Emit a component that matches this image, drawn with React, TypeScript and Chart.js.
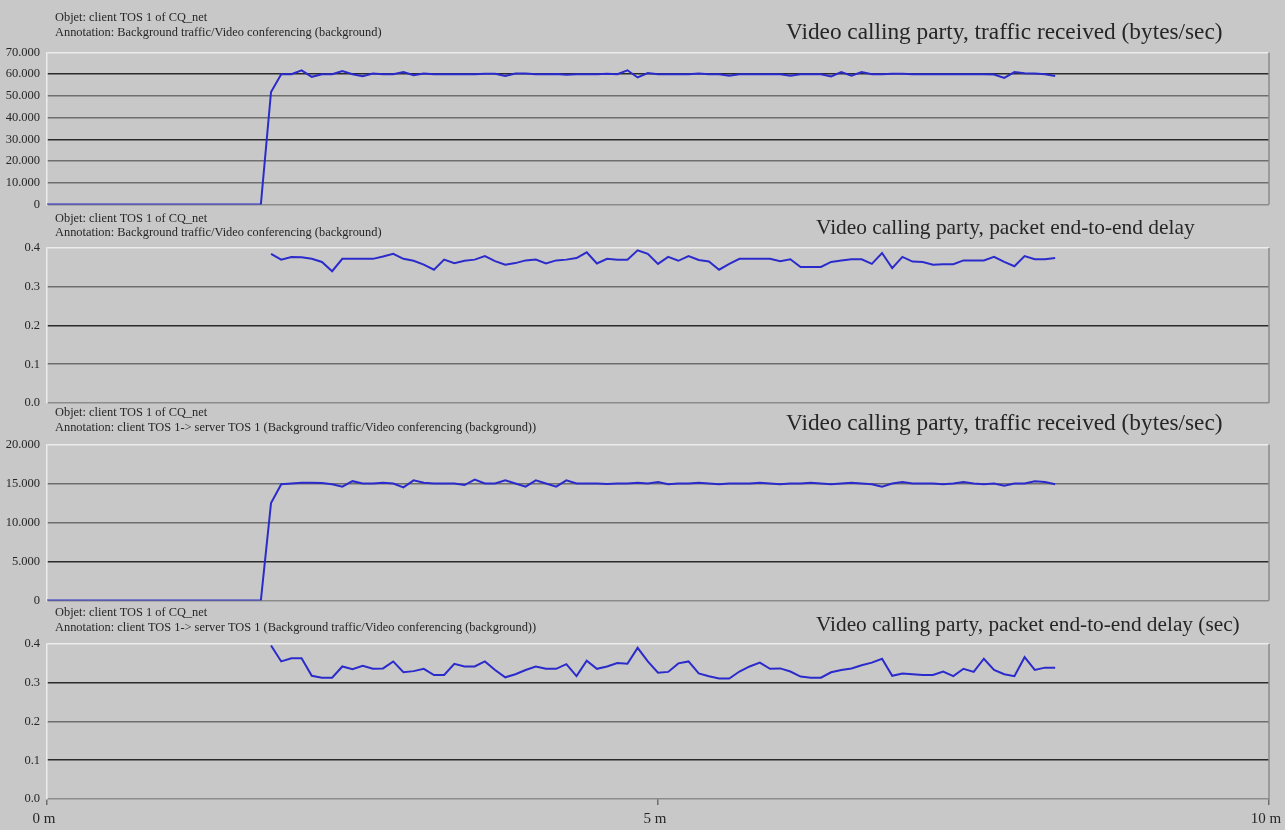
import { useEffect, useRef } from "react";
import { Chart, registerables } from "chart.js";

Chart.register(...registerables);

// ---------- DATA ----------
const SAMPLE_TIMES_S = [
  105, 110, 115, 120, 125, 130, 135, 140, 145, 150,
  155, 160, 165, 170, 175, 180, 185, 190, 195, 200,
  205, 210, 215, 220, 225, 230, 235, 240, 245, 250,
  255, 260, 265, 270, 275, 280, 285, 290, 295, 300,
  305, 310, 315, 320, 325, 330, 335, 340, 345, 350,
  355, 360, 365, 370, 375, 380, 385, 390, 395, 400,
  405, 410, 415, 420, 425, 430, 435, 440, 445, 450,
  455, 460, 465, 470, 475, 480, 485, 490, 495,
];
const IDLE_START_S = 0;

const TRAFFIC_RECEIVED_A = [
  0, 51800, 60000, 60000, 61800, 58800, 60000, 60000, 61500, 60000,
  59100, 60300, 60000, 60000, 61000, 59500, 60300, 60000, 60000, 60000,
  60000, 60000, 60200, 60200, 59200, 60300, 60300, 60000, 60000, 60100,
  59800, 60000, 60000, 60000, 60200, 60000, 61800, 58500, 60500, 60000,
  60000, 60000, 60000, 60300, 60000, 60000, 59300, 60000, 60000, 60000,
  60000, 60000, 59300, 60000, 60000, 60000, 59000, 61000, 59300, 61000,
  60000, 60000, 60200, 60200, 60000, 60000, 60000, 60000, 60000, 60000,
  60000, 60000, 59900, 58300, 61000, 60500, 60300, 60000, 59200,
];

const DELAY_A = [
  null, 0.385, 0.370, 0.377, 0.376, 0.372, 0.364, 0.340, 0.372, 0.372,
  0.372, 0.372, 0.378, 0.385, 0.372, 0.367, 0.357, 0.344, 0.370, 0.361,
  0.367, 0.370, 0.379, 0.366, 0.357, 0.361, 0.368, 0.370, 0.360, 0.368,
  0.370, 0.374, 0.389, 0.360, 0.372, 0.370, 0.370, 0.394, 0.385, 0.359,
  0.377, 0.367, 0.379, 0.369, 0.365, 0.344, 0.359, 0.372, 0.372, 0.372,
  0.372, 0.366, 0.371, 0.351, 0.351, 0.351, 0.364, 0.368, 0.371, 0.371,
  0.359, 0.387, 0.348, 0.377, 0.365, 0.364, 0.357, 0.358, 0.358, 0.368,
  0.368, 0.368, 0.377, 0.364, 0.353, 0.379, 0.371, 0.371, 0.374,
];

const TRAFFIC_RECEIVED_B = [
  0, 12500, 14900, 15000, 15100, 15100, 15050, 14900, 14600, 15300,
  15000, 15000, 15100, 15000, 14500, 15400, 15100, 15000, 15000, 15000,
  14800, 15500, 15000, 15000, 15400, 15000, 14600, 15400, 15000, 14600,
  15400, 15000, 15000, 15000, 14950, 15000, 15000, 15100, 15000, 15200,
  14900, 15000, 15000, 15100, 15000, 14900, 15000, 15000, 15000, 15100,
  15000, 14900, 15000, 15000, 15100, 15000, 14900, 15000, 15100, 15000,
  14900, 14600, 15000, 15200, 15000, 15000, 15000, 14900, 15000, 15200,
  15000, 14900, 15000, 14700, 15000, 15000, 15300, 15200, 14900,
];

const DELAY_B = [
  null, 0.396, 0.355, 0.363, 0.363, 0.318, 0.313, 0.313, 0.342, 0.335,
  0.344, 0.336, 0.337, 0.355, 0.327, 0.330, 0.336, 0.320, 0.320, 0.349,
  0.342, 0.342, 0.355, 0.333, 0.314, 0.322, 0.333, 0.342, 0.336, 0.336,
  0.348, 0.317, 0.357, 0.336, 0.342, 0.351, 0.349, 0.390, 0.355, 0.326,
  0.328, 0.350, 0.355, 0.324, 0.317, 0.311, 0.311, 0.329, 0.342, 0.352,
  0.336, 0.337, 0.329, 0.316, 0.313, 0.313, 0.327, 0.333, 0.337, 0.345,
  0.352, 0.362, 0.318, 0.324, 0.322, 0.320, 0.320, 0.329, 0.317, 0.336,
  0.328, 0.362, 0.333, 0.322, 0.317, 0.366, 0.333, 0.339, 0.339,
];

const X_TICK_LABELS = ["0 m", "5 m", "10 m"];
const Y_TICKS_TRAFFIC_A = ["0", "10.000", "20.000", "30.000", "40.000", "50.000", "60.000", "70.000"];
const Y_TICKS_DELAY = ["0.0", "0.1", "0.2", "0.3", "0.4"];
const Y_TICKS_TRAFFIC_B = ["0", "5.000", "10.000", "15.000", "20.000"];

const OBJET = "Objet: client TOS 1 of CQ_net";
const ANNOT_A = "Annotation: Background traffic/Video conferencing (background)";
const ANNOT_B = "Annotation: client TOS 1-> server TOS 1 (Background traffic/Video conferencing (background))";
const TITLE_TRAFFIC = "Video calling party, traffic received (bytes/sec)";
const TITLE_DELAY = "Video calling party, packet end-to-end delay";
const TITLE_DELAY_SEC = "Video calling party, packet end-to-end delay (sec)";

// ---------- STYLE / LAYOUT ----------
const W = 1285;
const H = 830;
const BG = "#c8c8c8";
const LINE = "#2b2bcc";
const SERIF = "'Liberation Serif', 'Times New Roman', serif";
const AXIS_W = 47;
const RIGHT_PAD = 16;
const X_AXIS_H = 30;
const LIGHT = "#ececec";
const DARK = "#2a2a2a";
const MID = "#6e6e6e";
const SOFT = "#8c8c8c";
const TEXT = "#262626";

type PanelCfg = {
  top: number;
  bottom: number;
  max: number;
  step: number;
  tickLabels: string[];
  gridColors: string[];
  values: (number | null)[];
  idle: boolean;
  annotation: string;
  title: string;
  titleSize: number;
  headY1: number;
  headY2: number;
  titleX: number;
  titleY: number;
  showX: boolean;
};

const PANELS: PanelCfg[] = [
  {
    top: 52.5, bottom: 204.5, max: 70000, step: 10000,
    tickLabels: Y_TICKS_TRAFFIC_A,
    gridColors: [SOFT, MID, MID, DARK, MID, MID, DARK, LIGHT],
    values: TRAFFIC_RECEIVED_A, idle: true,
    annotation: ANNOT_A, title: TITLE_TRAFFIC, titleSize: 23.3,
    headY1: 18, headY2: 33, titleX: 786, titleY: 33, showX: false,
  },
  {
    top: 248, bottom: 403, max: 0.4, step: 0.1,
    tickLabels: Y_TICKS_DELAY,
    gridColors: [SOFT, MID, DARK, MID, LIGHT],
    values: DELAY_A, idle: false,
    annotation: ANNOT_A, title: TITLE_DELAY, titleSize: 21.4,
    headY1: 219, headY2: 233, titleX: 816, titleY: 228, showX: false,
  },
  {
    top: 444.5, bottom: 600.5, max: 20000, step: 5000,
    tickLabels: Y_TICKS_TRAFFIC_B,
    gridColors: [SOFT, DARK, MID, MID, LIGHT],
    values: TRAFFIC_RECEIVED_B, idle: true,
    annotation: ANNOT_B, title: TITLE_TRAFFIC, titleSize: 23.3,
    headY1: 413, headY2: 428, titleX: 786, titleY: 424, showX: false,
  },
  {
    top: 644, bottom: 799, max: 0.4, step: 0.1,
    tickLabels: Y_TICKS_DELAY,
    gridColors: [SOFT, DARK, MID, DARK, LIGHT],
    values: DELAY_B, idle: false,
    annotation: ANNOT_B, title: TITLE_DELAY_SEC, titleSize: 21.3,
    headY1: 613, headY2: 628, titleX: 816, titleY: 625, showX: true,
  },
];

function buildPoints(values: (number | null)[], idle: boolean) {
  const pts: { x: number; y: number }[] = [];
  if (idle) pts.push({ x: IDLE_START_S / 60, y: 0 });
  values.forEach((v, i) => {
    if (v !== null) pts.push({ x: SAMPLE_TIMES_S[i] / 60, y: v });
  });
  return pts;
}

function Panel({ cfg }: { cfg: PanelCfg }) {
  const ref = useRef<HTMLCanvasElement | null>(null);
  useEffect(() => {
    const canvas = ref.current;
    if (!canvas) return;
    const textPlugin = {
      id: "panelText",
      afterDraw(chart: any) {
        const ctx = chart.ctx as CanvasRenderingContext2D;
        const a = chart.chartArea;
        ctx.save();
        ctx.strokeStyle = SOFT;
        ctx.lineWidth = 1.5;
        ctx.beginPath();
        ctx.moveTo(a.right, a.top);
        ctx.lineTo(a.right, a.bottom);
        ctx.stroke();
        ctx.fillStyle = TEXT;
        ctx.textBaseline = "middle";
        ctx.textAlign = "left";
        ctx.font = `12.4px ${SERIF}`;
        ctx.fillText(OBJET, 55, cfg.headY1);
        ctx.fillText(cfg.annotation, 55, cfg.headY2);
        ctx.font = `${cfg.titleSize}px ${SERIF}`;
        ctx.fillText(cfg.title, cfg.titleX, cfg.titleY);
        ctx.restore();
      },
    };
    const chart = new Chart(canvas, {
      type: "line",
      data: {
        datasets: [
          {
            data: buildPoints(cfg.values, cfg.idle),
            borderColor: LINE,
            borderWidth: 2,
            pointRadius: 0,
            tension: 0,
            fill: false,
          },
        ],
      },
      options: {
        animation: false,
        responsive: false,
        maintainAspectRatio: false,
        layout: {
          autoPadding: false,
          padding: {
            top: cfg.top,
            bottom: H - cfg.bottom - (cfg.showX ? X_AXIS_H : 0),
            left: 0,
            right: RIGHT_PAD,
          },
        },
        plugins: {
          legend: { display: false },
          tooltip: { enabled: false },
          title: { display: false },
        },
        scales: {
          x: {
            type: "linear",
            min: 0,
            max: 10,
            display: cfg.showX,
            afterFit: (s: any) => {
              s.height = cfg.showX ? X_AXIS_H : 0;
              s.paddingLeft = 0;
              s.paddingRight = 0;
            },
            ticks: {
              stepSize: 5,
              padding: 5,
              autoSkip: false,
              labelOffset: -3,
              color: TEXT,
              font: { family: SERIF, size: 15 },
              maxRotation: 0,
              callback: (_v: any, i: number) => X_TICK_LABELS[i],
            },
            grid: {
              drawOnChartArea: false,
              drawTicks: true,
              tickLength: 6,
              color: MID,
              lineWidth: 1.5,
            },
            border: { display: false },
          },
          y: {
            type: "linear",
            min: 0,
            max: cfg.max,
            afterFit: (s: any) => {
              s.width = AXIS_W;
              s.paddingTop = 0;
              s.paddingBottom = 0;
            },
            ticks: {
              stepSize: cfg.step,
              padding: 7,
              autoSkip: false,
              color: TEXT,
              font: { family: SERIF, size: 12.5 },
              callback: (_v: any, i: number) => cfg.tickLabels[i],
            },
            grid: {
              drawTicks: false,
              color: (c: any) => cfg.gridColors[c.index] ?? MID,
              lineWidth: 1.6,
            },
            border: { display: true, color: LIGHT, width: 1.5 },
          },
        },
      },
      plugins: [textPlugin],
    } as any);
    return () => chart.destroy();
  }, [cfg]);
  return (
    <canvas
      ref={ref}
      width={W}
      height={H}
      style={{ position: "absolute", left: 0, top: 0, width: W, height: H }}
    />
  );
}

export default function App() {
  return (
    <div
      style={{
        position: "fixed",
        left: 0,
        top: 0,
        width: W,
        height: H,
        background: BG,
        overflow: "hidden",
      }}
    >
      {PANELS.map((p, i) => (
        <Panel key={i} cfg={p} />
      ))}
    </div>
  );
}
